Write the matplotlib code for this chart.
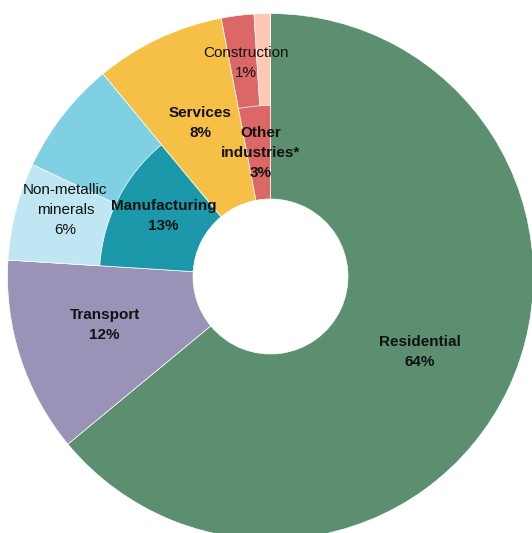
"""Donut chart of energy use by sector, with sub-splits for industry."""

import matplotlib.pyplot as plt

# Main sectors (inner + full ring)
sectors = ["Residential", "Transport", "Manufacturing", "Services", "Other industries*"]
shares = [64, 12, 13, 8, 3]
sector_colors = ["#5b8f6f", "#9a93b7", "#1b98a9", "#f6bf45", "#dc6767"]

# Outer ring breakdown (only the industry pieces are drawn)
sub_names = ["Residential", "Transport", "Non-metallic minerals", "Other manufacturing",
             "Services", "Other industries", "Construction"]
sub_shares = [64, 12, 6, 7, 8, 2, 1]
sub_colors = ["none", "none", "#bfe6f2", "#7fd0e2", "none", "#dc6767", "#fec8b5"]
sub_drawn = [False, False, True, True, False, True, True]

# Label text, weight and position
labels = ["Residential\n64%", "Transport\n12%", "Manufacturing\n13%",
          "Non-metallic\nminerals\n6%", "Services\n8%", "Other\nindustries*\n3%",
          "Construction\n1%"]
label_bold = [True, True, True, False, True, True, False]
label_xy = [(420, 181), (104.5, 208), (163.5, 317), (65.5, 323),
            (200, 410), (261, 380), (245.5, 470)]

CENTER = (270.5, 256.5)
R_OUT = 263
R_MID = 171
R_IN = 77.5

fig = plt.figure(figsize=(5.32, 5.33), dpi=100)
ax = fig.add_axes([0, 0, 1, 1])

ax.pie(shares, colors=sector_colors, startangle=90, counterclock=False,
       radius=R_OUT, center=CENTER,
       wedgeprops=dict(width=R_OUT - R_IN, edgecolor="white", linewidth=0.5))

sub_wedges, _ = ax.pie(sub_shares, colors=sub_colors, startangle=90, counterclock=False,
                       radius=R_OUT, center=CENTER,
                       wedgeprops=dict(width=R_OUT - R_MID, edgecolor="white", linewidth=0.5))
for w, drawn in zip(sub_wedges, sub_drawn):
    w.set_visible(drawn)

for text, bold, (x, y) in zip(labels, label_bold, label_xy):
    ax.text(x, y, text, ha="center", va="center", fontsize=11,
            family="Liberation Sans", fontweight="bold" if bold else "normal",
            color="#111111", linespacing=1.55)

ax.set_xlim(0, 532)
ax.set_ylim(0, 533)
ax.set_aspect("auto")
ax.axis("off")

fig.savefig("out.png", dpi=100)
